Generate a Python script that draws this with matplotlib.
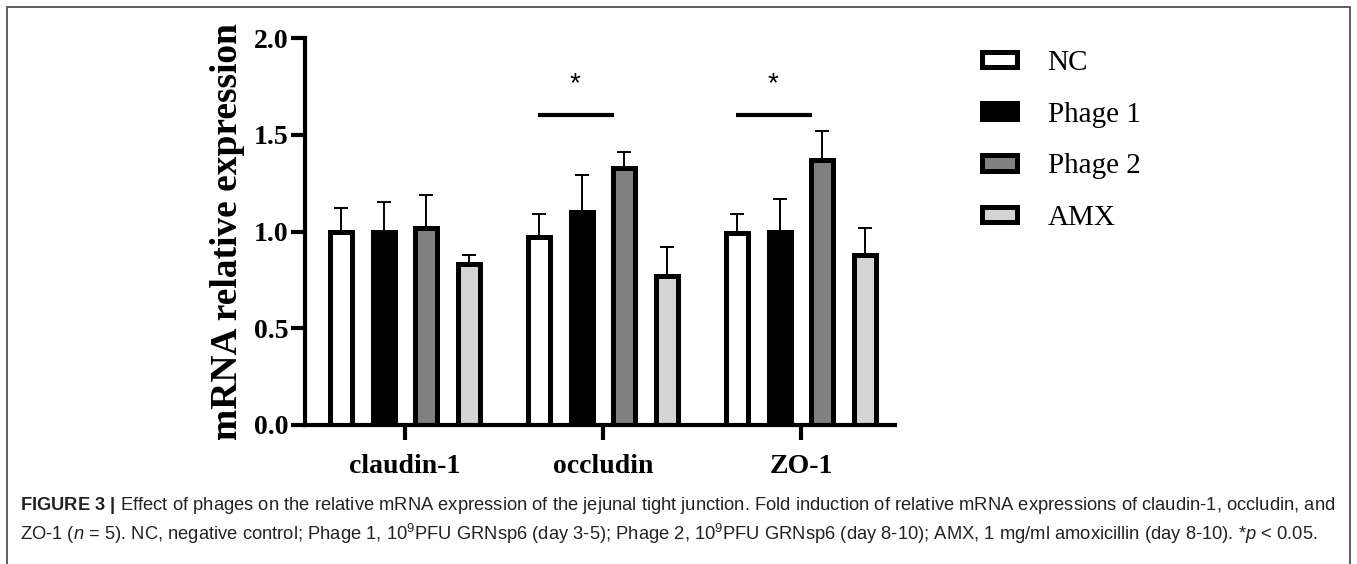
import numpy as np
import matplotlib
matplotlib.use("Agg")
import matplotlib.pyplot as plt
from matplotlib.patches import Rectangle

# ---- data ----
genes = ["claudin-1", "occludin", "ZO-1"]
groups = ["NC", "Phage 1", "Phage 2", "AMX"]
colors = ["white", "black", "#808080", "#d4d4d4"]

nc_mean = [1.00, 0.97, 0.99]
phage1_mean = [1.00, 1.10, 1.00]
phage2_mean = [1.02, 1.33, 1.37]
amx_mean = [0.83, 0.77, 0.88]

nc_sd = [0.12, 0.12, 0.10]
phage1_sd = [0.15, 0.19, 0.17]
phage2_sd = [0.17, 0.08, 0.15]
amx_sd = [0.05, 0.15, 0.14]

sig_genes = ["occludin", "ZO-1"]
sig_level = 1.6
yticks = [0.0, 0.5, 1.0, 1.5, 2.0]

means = [nc_mean, phage1_mean, phage2_mean, amx_mean]
sds = [nc_sd, phage1_sd, phage2_sd, amx_sd]

plt.rcParams["mathtext.fontset"] = "custom"
plt.rcParams["mathtext.rm"] = "Liberation Sans"
plt.rcParams["mathtext.it"] = "Liberation Sans:italic"
plt.rcParams["mathtext.bf"] = "Liberation Sans:bold"

W, H = 1357, 564
fig = plt.figure(figsize=(W / 100, H / 100), dpi=100)
ax = fig.add_axes([305 / W, 1 - 425 / H, (895 - 305) / W, (425 - 38) / H])

x = np.arange(len(genes))
step = 0.2146
width = 0.111
bars = []
for i, (m, s) in enumerate(zip(means, sds)):
    xi = x + (i - 1.5) * step
    ax.errorbar(xi, m, yerr=[np.zeros(len(s)), s], fmt="none", ecolor="black",
                elinewidth=1.4, capsize=5, capthick=1.4, zorder=1)
    b = ax.bar(xi, m, width, color=colors[i], edgecolor="black", linewidth=3.6,
               label=groups[i], zorder=2)
    bars.append(b)

# significance marks
for g in sig_genes:
    c = genes.index(g)
    ax.plot([c - 0.33, c + 0.055], [sig_level, sig_level], color="black", lw=3,
            solid_capstyle="butt")
    ax.text(c - 0.14, sig_level + 0.16, "*", ha="center", va="center",
            fontsize=20, family="Liberation Sans")

ax.set_xlim(-0.505, 2.475)
ax.set_ylim(0, 2.0)
for sp in ["top", "right"]:
    ax.spines[sp].set_visible(False)
for sp in ["left", "bottom"]:
    ax.spines[sp].set_linewidth(3)

serif_bold = {"family": "Liberation Serif", "weight": "bold"}
ax.set_yticks(yticks)
ax.set_yticklabels([f"{v:.1f}" for v in yticks], fontdict=dict(serif_bold, size=20))
ax.set_xticks(x)
ax.set_xticklabels(genes, fontdict=dict(serif_bold, size=20))
ax.tick_params(axis="y", length=10, width=3, pad=2)
ax.tick_params(axis="x", length=11, width=3, pad=10)
ax.set_ylabel("mRNA relative expression", fontdict=dict(serif_bold, size=27),
              labelpad=6)

fig.legend(handles=bars, loc="upper left", bbox_to_anchor=(982 / W, 1 - 50 / H),
           frameon=False, prop={"family": "Liberation Serif", "size": 21},
           handlelength=1.2, handleheight=0.45, labelspacing=0.88,
           handletextpad=1.05, borderpad=0, borderaxespad=0)

# outer frame
fig.add_artist(Rectangle((7 / W, -0.1), (1350 - 7) / W, 1.1 - 7 / H,
                         transform=fig.transFigure, fill=False,
                         edgecolor="#444444", lw=1.2, clip_on=False))

cap1 = (r"$\mathbf{FIGURE\ 3\ |}$ Effect of phages on the relative mRNA expression of the "
        "jejunal tight junction. Fold induction of relative mRNA expressions of "
        "claudin-1, occludin, and")
cap2 = (r"ZO-1 ($n$ = 5). NC, negative control; Phage 1, 10$^{9}$PFU GRNsp6 (day 3-5); "
        r"Phage 2, 10$^{9}$PFU GRNsp6 (day 8-10); AMX, 1 mg/ml amoxicillin (day 8-10). "
        r"*$p$ < 0.05.")
fig.text(20 / W, 1 - 506 / H, cap1, ha="left", va="center", fontsize=13.2,
         family="Liberation Sans", color="#222222")
fig.text(20 / W, 1 - 534 / H, cap2, ha="left", va="center", fontsize=13.2,
         family="Liberation Sans", color="#222222")

fig.savefig("out.png", dpi=100)
